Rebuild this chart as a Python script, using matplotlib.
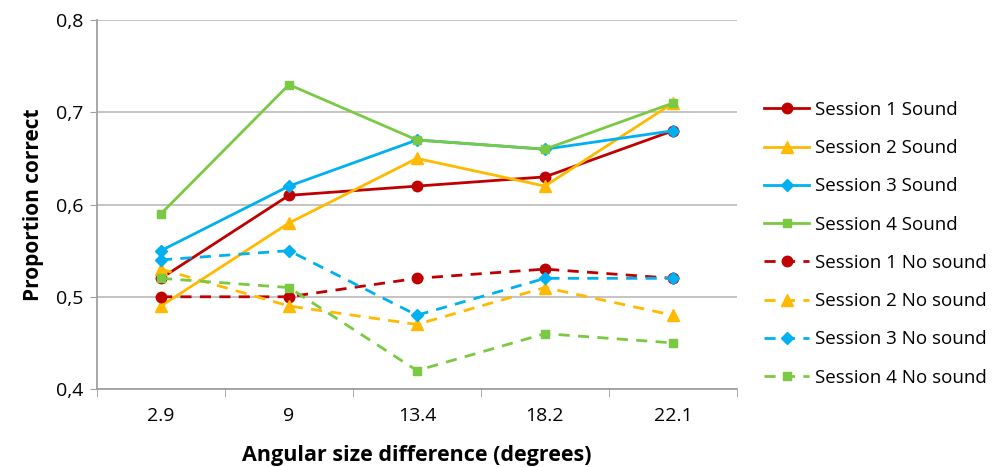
import matplotlib
matplotlib.use("Agg")
import matplotlib.pyplot as plt

categories = ["2.9", "9", "13.4", "18.2", "22.1"]
s1_sound = [0.52, 0.61, 0.62, 0.63, 0.68]
s2_sound = [0.49, 0.58, 0.65, 0.62, 0.71]
s3_sound = [0.55, 0.62, 0.67, 0.66, 0.68]
s4_sound = [0.59, 0.73, 0.67, 0.66, 0.71]
s1_nosound = [0.50, 0.50, 0.52, 0.53, 0.52]
s2_nosound = [0.53, 0.49, 0.47, 0.51, 0.48]
s3_nosound = [0.54, 0.55, 0.48, 0.52, 0.52]
s4_nosound = [0.52, 0.51, 0.42, 0.46, 0.45]
yticks = [0.4, 0.5, 0.6, 0.7, 0.8]
ytick_labels = ["0,4", "0,5", "0,6", "0,7", "0,8"]

plt.rcParams['font.family'] = ['Open Sans', 'DejaVu Sans']

red = "#C00000"
orange = "#FFB900"
blue = "#00B0F0"
green = "#7AC943"

series = [
    ("Session 1 Sound", s1_sound, red, "o", "-", 7.5),
    ("Session 2 Sound", s2_sound, orange, "^", "-", 8.5),
    ("Session 3 Sound", s3_sound, blue, "D", "-", 6),
    ("Session 4 Sound", s4_sound, green, "s", "-", 5.5),
    ("Session 1 No sound", s1_nosound, red, "o", "--", 7.5),
    ("Session 2 No sound", s2_nosound, orange, "^", "--", 8.5),
    ("Session 3 No sound", s3_nosound, blue, "D", "--", 6),
    ("Session 4 No sound", s4_nosound, green, "s", "--", 5.5),
]

fig = plt.figure(figsize=(10.03, 4.67), dpi=100)
ax = fig.add_axes([0.0967, 0.167, 0.638, 0.790])

x = list(range(len(categories)))
handles = []
for label, vals, col, mk, ls, ms in series:
    h, = ax.plot(x, vals, color=col, marker=mk, linestyle=ls, linewidth=2,
                 markersize=ms, label=label, dashes=(4, 3) if ls == "--" else (None, None))
    handles.append(h)

ax.set_xlim(-0.5, len(categories) - 0.5)
ax.set_ylim(0.4, 0.8)
ax.set_yticks(yticks)
ax.set_yticklabels(ytick_labels, fontsize=14)
ax.set_xticks(x)
ax.set_xticklabels(categories, fontsize=14)
ax.set_xticks([i - 0.5 for i in range(len(categories) + 1)], minor=True)
ax.tick_params(axis="x", which="major", length=0, pad=13)
ax.tick_params(axis="x", which="minor", length=6, color="#A0A0A0", direction="out")
ax.tick_params(axis="y", length=5, color="#A0A0A0", direction="out", pad=5)
ax.grid(axis="y", color="#BFBFBF", linewidth=1.3)
ax.set_axisbelow(True)
for s in ["top", "right"]:
    ax.spines[s].set_visible(False)
for s in ["left", "bottom"]:
    ax.spines[s].set_color("#A0A0A0")
    ax.spines[s].set_linewidth(1.3)

ax.set_ylabel("Proportion correct", fontsize=15, fontweight="bold", labelpad=8)
ax.set_xlabel("Angular size difference (degrees)", fontsize=15.5, fontweight="bold", labelpad=14)

fig.legend(handles=handles, loc="upper left", bbox_to_anchor=(0.745, 0.82),
           frameon=False, fontsize=13.5, handlelength=2.4, labelspacing=1.08,
           handletextpad=0.3)

fig.savefig("out.png", dpi=100)
